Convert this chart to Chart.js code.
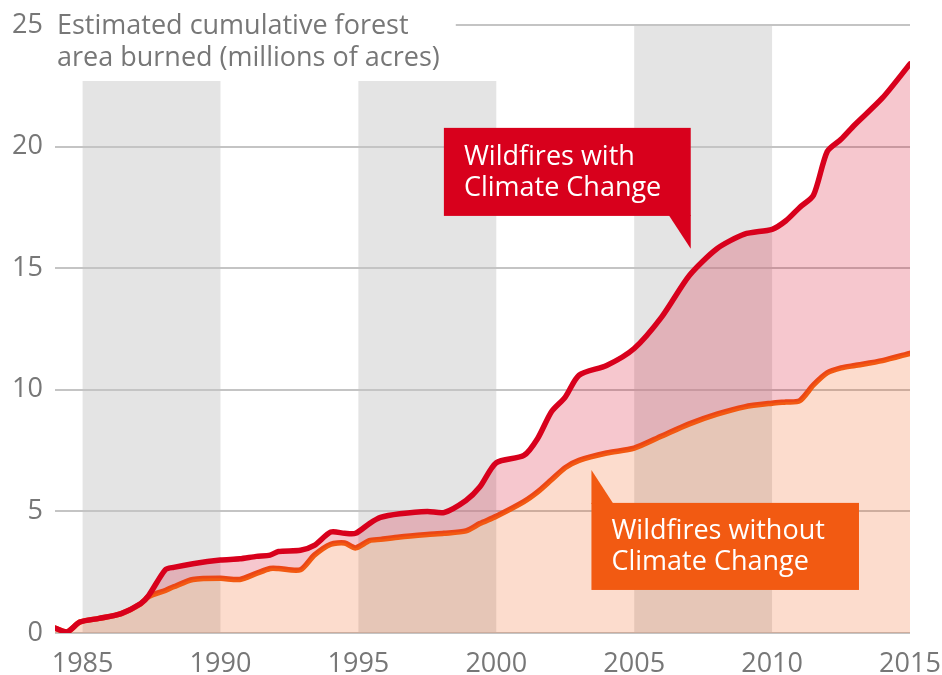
<!DOCTYPE html>
<html>
<head>
<meta charset="utf-8">
<script src="https://cdn.jsdelivr.net/npm/chart.js@4/dist/chart.umd.min.js"></script>
<style>
  html, body { margin: 0; padding: 0; background: #fff; }
  #wrap { width: 942px; height: 675px; }
</style>
</head>
<body>
<div id="wrap"><canvas id="chart"></canvas></div>
<script>
// ---- data ----
const years = [1984, 1984.45, 1984.9, 1985.6, 1986.4, 1987.1, 1987.4, 1988.0, 1988.3, 1989.0,
  1990.0, 1990.7, 1991.3, 1991.8, 1992.1, 1992.9, 1993.4, 1994.0, 1994.5, 1994.9,
  1995.4, 1995.8, 1996.5, 1997.5, 1998.1, 1998.9, 1999.4, 2000.0, 2001.0, 2001.5,
  2002.0, 2002.5, 2003.0, 2004.0, 2005.0, 2006.0, 2007.0, 2008.0, 2009.0, 2010.0,
  2010.5, 2011.0, 2011.5, 2012.0, 2012.5, 2013.0, 2014.0, 2015.0];

const withClimate = [0.2, 0.05, 0.45, 0.6, 0.8, 1.2, 1.55, 2.6, 2.7, 2.85,
  3.0, 3.05, 3.15, 3.2, 3.35, 3.4, 3.6, 4.15, 4.1, 4.1,
  4.5, 4.75, 4.9, 5.0, 4.95, 5.45, 6.0, 7.0, 7.3, 8.0,
  9.1, 9.7, 10.6, 11.0, 11.7, 13.0, 14.7, 15.8, 16.4, 16.6,
  16.95, 17.5, 18.0, 19.8, 20.3, 20.9, 22.0, 23.4];

const withoutClimate = [0.2, 0.05, 0.45, 0.6, 0.8, 1.2, 1.5, 1.75, 1.9, 2.2,
  2.25, 2.2, 2.45, 2.65, 2.65, 2.6, 3.2, 3.65, 3.7, 3.5,
  3.8, 3.85, 3.95, 4.05, 4.1, 4.2, 4.5, 4.8, 5.4, 5.8,
  6.3, 6.8, 7.1, 7.4, 7.6, 8.1, 8.6, 9.0, 9.3, 9.45,
  9.5, 9.55, 10.2, 10.7, 10.9, 11.0, 11.2, 11.5];

const xTicks = [1985, 1990, 1995, 2000, 2005, 2010, 2015];
const yTicks = [0, 5, 10, 15, 20, 25];
const shadedPeriods = [[1985, 1990], [1995, 2000], [2005, 2010]];
const titleLines = ['Estimated cumulative forest', 'area burned (millions of acres)'];

const RED = '#d8001c';
const ORANGE = '#f25a12';
const GREY_TEXT = '#777777';
const FONT = '"Open Sans", Roboto, sans-serif';

// callout boxes, placed in data units (left/right year, top/bottom value, tip)
const callouts = [
  { lines: ['Wildfires with', 'Climate Change'], color: RED,
    x0: 1998.1, x1: 2007.05, y0: 20.77, y1: 17.15, tip: 'br', tipX: 2006.25, tipY: 15.8 },
  { lines: ['Wildfires without', 'Climate Change'], color: ORANGE,
    x0: 2003.45, x1: 2013.15, y0: 5.35, y1: 1.77, tip: 'tl', tipX: 2004.25, tipY: 6.7 }
];

let titleRight = 0;

const decorations = {
  id: 'decorations',
  beforeDraw(chart) {
    const {ctx, chartArea, scales: {x, y}} = chart;
    ctx.save();
    ctx.font = '27px ' + FONT;
    titleRight = chartArea.left + 2 + Math.max(...titleLines.map(t => ctx.measureText(t).width));
    // grey periods
    ctx.fillStyle = '#e4e4e4';
    shadedPeriods.forEach(([a, b]) => {
      const left = x.getPixelForValue(a), right = x.getPixelForValue(b);
      const top = left < titleRight + 16 ? chartArea.top + 56 : chartArea.top;
      ctx.fillRect(left, top, right - left, chartArea.bottom - top);
    });
    ctx.restore();
  },
  afterDraw(chart) {
    const {ctx, chartArea, scales: {x, y}} = chart;
    ctx.save();
    // title as text in the top left
    ctx.font = '27px ' + FONT;
    ctx.fillStyle = GREY_TEXT;
    ctx.textBaseline = 'middle';
    ctx.textAlign = 'left';
    titleLines.forEach((t, i) => ctx.fillText(t, chartArea.left + 2, y.getPixelForValue(25) + 1 + i * 32));
    // top gridline starting after the title
    ctx.strokeStyle = '#c4c4c4';
    ctx.lineWidth = 2;
    ctx.beginPath();
    ctx.moveTo(titleRight + 16, y.getPixelForValue(25));
    ctx.lineTo(chartArea.right, y.getPixelForValue(25));
    ctx.stroke();

    // callouts
    callouts.forEach(c => {
      const l = x.getPixelForValue(c.x0), r = x.getPixelForValue(c.x1);
      const t = y.getPixelForValue(c.y0), b = y.getPixelForValue(c.y1);
      const tx = x.getPixelForValue(c.tipX), ty = y.getPixelForValue(c.tipY);
      ctx.fillStyle = c.color;
      ctx.fillRect(l, t, r - l, b - t);
      ctx.beginPath();
      if (c.tip === 'br') {
        ctx.moveTo(tx, b - 1); ctx.lineTo(r, b - 1); ctx.lineTo(r, ty);
      } else {
        ctx.moveTo(l, t + 1); ctx.lineTo(tx, t + 1); ctx.lineTo(l, ty);
      }
      ctx.closePath();
      ctx.fill();
      ctx.fillStyle = '#ffffff';
      ctx.font = '27px ' + FONT;
      ctx.textBaseline = 'middle';
      const mid = (t + b) / 2;
      ctx.fillText(c.lines[0], l + 20, mid - 15);
      ctx.fillText(c.lines[1], l + 20, mid + 16);
    });
    ctx.restore();
  }
};

new Chart(document.getElementById('chart'), {
  type: 'line',
  data: {
    datasets: [
      {
        label: 'Wildfires with Climate Change',
        data: years.map((yr, i) => ({x: yr, y: withClimate[i]})),
        borderColor: RED,
        borderWidth: 5.5,
        backgroundColor: 'rgba(215,0,30,0.22)',
        fill: '+1',
        pointRadius: 0,
        tension: 0.25,
        borderCapStyle: 'round',
        borderJoinStyle: 'round'
      },
      {
        label: 'Wildfires without Climate Change',
        data: years.map((yr, i) => ({x: yr, y: withoutClimate[i]})),
        borderColor: ORANGE,
        borderWidth: 5.5,
        backgroundColor: 'rgba(242,90,18,0.21)',
        fill: 'origin',
        pointRadius: 0,
        tension: 0.25,
        borderCapStyle: 'round',
        borderJoinStyle: 'round'
      }
    ]
  },
  options: {
    responsive: true,
    maintainAspectRatio: false,
    animation: false,
    layout: { padding: { top: 25, right: 32, left: 0, bottom: 0 } },
    plugins: { legend: { display: false }, tooltip: { enabled: false } },
    scales: {
      x: {
        type: 'linear',
        min: 1984,
        max: 2015,
        afterBuildTicks: s => { s.ticks = xTicks.map(v => ({value: v})); },
        afterFit: s => { s.height = 42; s.paddingRight = 0; s.paddingLeft = 0; },
        grid: { display: false },
        border: { display: false },
        ticks: {
          color: GREY_TEXT,
          font: { family: FONT, size: 27 },
          padding: 7,
          maxRotation: 0,
          callback: v => String(v)
        }
      },
      y: {
        min: 0,
        max: 25,
        afterBuildTicks: s => { s.ticks = yTicks.map(v => ({value: v})); },
        afterFit: s => { s.width = 55; s.paddingTop = 0; s.paddingBottom = 0; },
        border: { display: false },
        grid: {
          drawTicks: false,
          lineWidth: 2,
          color: c => (c.tick && c.tick.value === 25) ? 'rgba(0,0,0,0)' : '#c4c4c4'
        },
        ticks: {
          color: GREY_TEXT,
          font: { family: FONT, size: 27 },
          padding: 12
        }
      }
    }
  },
  plugins: [decorations]
});
</script>
</body>
</html>
